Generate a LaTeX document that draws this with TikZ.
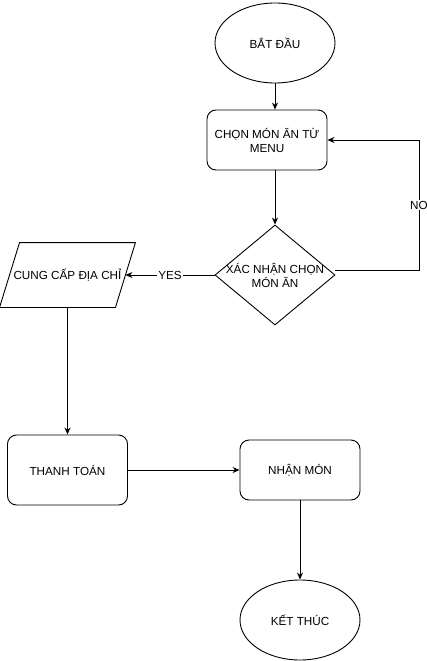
\documentclass[tikz,border=0pt]{standalone}
\usepackage{fontspec}
\setmainfont{Liberation Sans}
\usetikzlibrary{shapes.geometric, arrows.meta}

\begin{document}
\begin{tikzpicture}[x=1pt, y=-1pt, line width=0.9pt,
    font=\fontsize{11.7}{14}\selectfont,
    arr/.style={-{Stealth[length=7pt, width=6pt]}},
    terminal/.style={draw, ellipse, minimum width=120pt, minimum height=80pt},
    stepbox/.style={draw, rounded corners=9pt, minimum width=120pt, align=center},
    decision/.style={draw, diamond, aspect=1.2, inner sep=-4pt, minimum width=120pt, minimum height=100pt, align=center},
    inout/.style={minimum width=135pt, minimum height=64pt, inner sep=0pt},
    lbl/.style={fill=white, inner sep=1pt}]
        \useasboundingbox (0,0) rectangle (427,661);

        % nodes
        \node[terminal] (start) at (275, 43) {BẮT ĐẦU};
        \node[stepbox, minimum height=60pt] (choose) at (267, 140) {CHỌN MÓN ĂN TỪ\\MENU};
        \node[decision] (confirm) at (275, 275) {XÁC NHẬN CHỌN\\MÓN ĂN};
        \node[inout] (address) at (67.5, 275) {CUNG CẤP ĐỊA CHỈ};
        \node[stepbox, minimum height=70pt] (pay) at (67.5, 470) {THANH TOÁN};
        \node[stepbox, minimum height=60pt] (receive) at (300, 470) {NHẬN MÓN};
        \node[terminal] (finish) at (300, 620) {KẾT THÚC};
        \coordinate (noturn) at (419, 270);

        % parallelogram for the address input
        \draw ([xshift=20pt]address.north west) -- (address.north east)
            -- ([xshift=-20pt]address.south east) -- (address.south west) -- cycle;

        % connectors
        \draw[arr] (start) -- (start |- choose.north);
        \draw[arr] (start |- choose.south) -- (confirm.north);
        \draw[arr] (confirm.east |- noturn) -- (noturn) |- node[pos=0.25, lbl]{NO} (choose.east);
        \draw[arr] (confirm.west) -- node[lbl]{YES} ([xshift=-10pt]address.east);
        \draw[arr] (address) -- (pay);
        \draw[arr] (pay) -- (receive);
        \draw[arr] (receive) -- (finish);
    \end{tikzpicture}
\end{document}
